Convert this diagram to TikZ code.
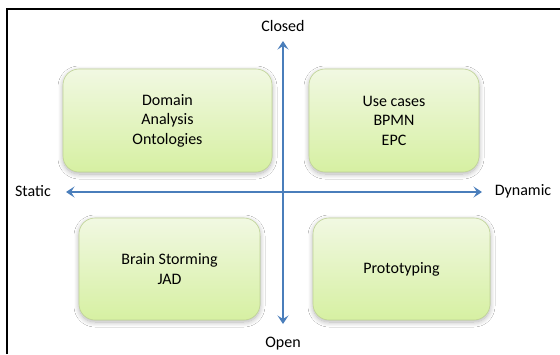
\documentclass[tikz,border=0pt]{standalone}
\usepackage{fontspec}
\setmainfont{Carlito}
\usetikzlibrary{arrows.meta,shadows.blur}
\definecolor{boxtop}{HTML}{F1F8E2}
\definecolor{boxbot}{HTML}{D6F0A2}
\definecolor{boxedge}{HTML}{BFD395}
\definecolor{axisblue}{HTML}{4A7EBB}
\begin{document}
\begin{tikzpicture}[x=1pt,y=-1pt,
  quad/.style={draw=boxedge, line width=0.6pt, rounded corners=16pt,
    top color=boxtop, bottom color=boxbot,
    blur shadow={shadow blur steps=10, shadow xshift=0pt, shadow yshift=-2pt, shadow opacity=30, shadow blur radius=5pt},
    align=center, inner sep=0pt, font=\fontsize{16}{19.5}\selectfont},
  lbl/.style={font=\fontsize{16}{19.5}\selectfont, inner sep=0pt},
  axisline/.style={draw=axisblue, line width=2.5pt, {Stealth[length=8.5pt,width=11pt,inset=3.5pt]}-{Stealth[length=8.5pt,width=11pt,inset=3.5pt]}}]
\useasboundingbox (0,0) rectangle (560,354);
\fill[white] (0,0) rectangle (560,354);
% frame
\draw[line width=2pt] (7,354) -- (7,8.5) -- (560,8.5);
% boxes
\node[quad, minimum width=209pt, minimum height=103pt] (da) at (167.5,120.5) {Domain\\Analysis\\Ontologies};
\node[quad, minimum width=170pt, minimum height=103pt] (uc) at (394,120.5) {Use cases\\BPMN\\EPC};
\node[quad, minimum width=181pt, minimum height=102pt] (bs) at (169.5,269) {Brain Storming\\JAD};
\node[quad, minimum width=177pt, minimum height=102pt] (pt) at (401.5,269) {Prototyping};
% labels
\node[lbl] (closed) at (283,26) {Closed};
\node[lbl] (open) at (283,344) {Open};
\node[lbl] (static) at (33,191) {Static};
\node[lbl] (dynamic) at (523,191) {Dynamic};
% axes
\coordinate (ct) at (283,41);
\coordinate (cb) at (283,324);
\coordinate (cl) at (66,192);
\coordinate (cr) at (482,192);
\draw[axisline] (ct) -- (cb);
\draw[axisline] (cl) -- (cr);
\end{tikzpicture}
\end{document}
